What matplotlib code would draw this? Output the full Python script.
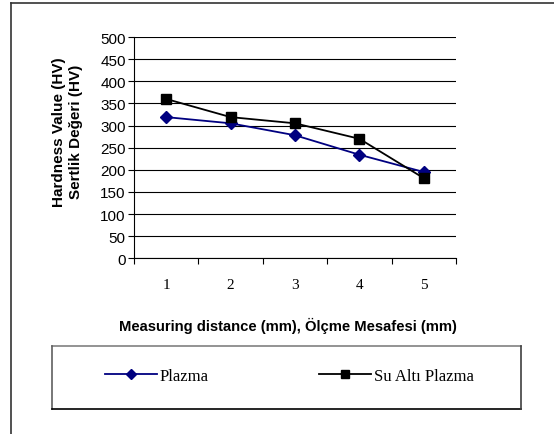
import matplotlib
matplotlib.use("Agg")
import matplotlib.pyplot as plt
from matplotlib.lines import Line2D

categories = ["1", "2", "3", "4", "5"]
plazma = [319, 305, 278, 234, 195]
su_alti = [360, 319, 305, 270, 181]
y_ticks = [0, 50, 100, 150, 200, 250, 300, 350, 400, 450, 500]

W, H = 554, 435
fig = plt.figure(figsize=(W / 100, H / 100), dpi=100)

def fx(px):
    return px / W

def fy(py):
    return 1 - py / H

ax = fig.add_axes([fx(134), fy(259.3), fx(456) - fx(134), fy(38) - fy(259.3)])
x = list(range(1, len(categories) + 1))

ax.plot(x, plazma, color="#000080", lw=1.3, marker="D", markersize=6,
        markerfacecolor="#000080", markeredgecolor="#000080", label="Plazma", zorder=3)
ax.plot(x, su_alti, color="black", lw=1.3, marker="s", markersize=7,
        markerfacecolor="black", markeredgecolor="black", label="Su Altı Plazma", zorder=3)

ax.set_xlim(0.5, len(categories) + 0.5)
ax.set_ylim(0, 500)
ax.set_yticks(y_ticks)
ax.set_yticklabels([str(v) for v in y_ticks], fontfamily="Liberation Sans", fontsize=11)
ax.yaxis.grid(True, color="black", lw=0.8)
ax.set_axisbelow(True)

ax.set_xticks([i + 0.5 for i in range(0, len(categories) + 1)])
ax.set_xticklabels([])
ax.set_xticks(x, minor=True)
ax.set_xticklabels(categories, minor=True, fontfamily="Liberation Serif", fontsize=11)
ax.tick_params(axis="x", which="minor", length=0, pad=14)
ax.tick_params(axis="x", which="major", length=4, width=0.8, direction="out")
ax.tick_params(axis="y", length=4, width=0.8, direction="out", pad=2)

for s in ["top", "right"]:
    ax.spines[s].set_visible(False)
for s in ["left", "bottom"]:
    ax.spines[s].set_linewidth(0.8)
    ax.spines[s].set_color("black")

fig.text(fx(288), fy(326), "Measuring distance (mm), Ölçme Mesafesi (mm)",
         ha="center", va="center", fontfamily="Liberation Sans", fontweight="bold", fontsize=10.6)
fig.text(fx(67.5), fy(132), "Hardness Value (HV)\nSertlik Değeri (HV)", rotation=90,
         ha="center", va="center", multialignment="center",
         fontfamily="Liberation Sans", fontweight="bold", fontsize=11, linespacing=1.3)

# outer frame
fig.add_artist(Line2D([fx(11), fx(11)], [fy(4), 0], transform=fig.transFigure, color="#333333", lw=1.2))
fig.add_artist(Line2D([fx(11), 1], [fy(4), fy(4)], transform=fig.transFigure, color="#333333", lw=1.2))

# legend box
lx0, lx1, ly0, ly1 = fx(52), fx(521), fy(410), fy(347)
fig.add_artist(Line2D([lx0, lx1], [ly1, ly1], transform=fig.transFigure, color="#808080", lw=1.2))
fig.add_artist(Line2D([lx0, lx0], [ly0, ly1], transform=fig.transFigure, color="#606060", lw=1.2))
fig.add_artist(Line2D([lx0, lx1], [ly0, ly0], transform=fig.transFigure, color="black", lw=1.2))
fig.add_artist(Line2D([lx1, lx1], [ly0, ly1], transform=fig.transFigure, color="#404040", lw=1.2))

handles, labels = ax.get_legend_handles_labels()
leg = fig.legend(handles, labels, loc="center left", bbox_to_anchor=(fx(105), fy(377)),
                 ncol=2, frameon=False, handlelength=3.1, handletextpad=0.2,
                 columnspacing=6.6, markerscale=0.85,
                 prop={"family": "Liberation Serif", "size": 12}, borderaxespad=0, borderpad=0)

fig.savefig("out.png", dpi=100)
